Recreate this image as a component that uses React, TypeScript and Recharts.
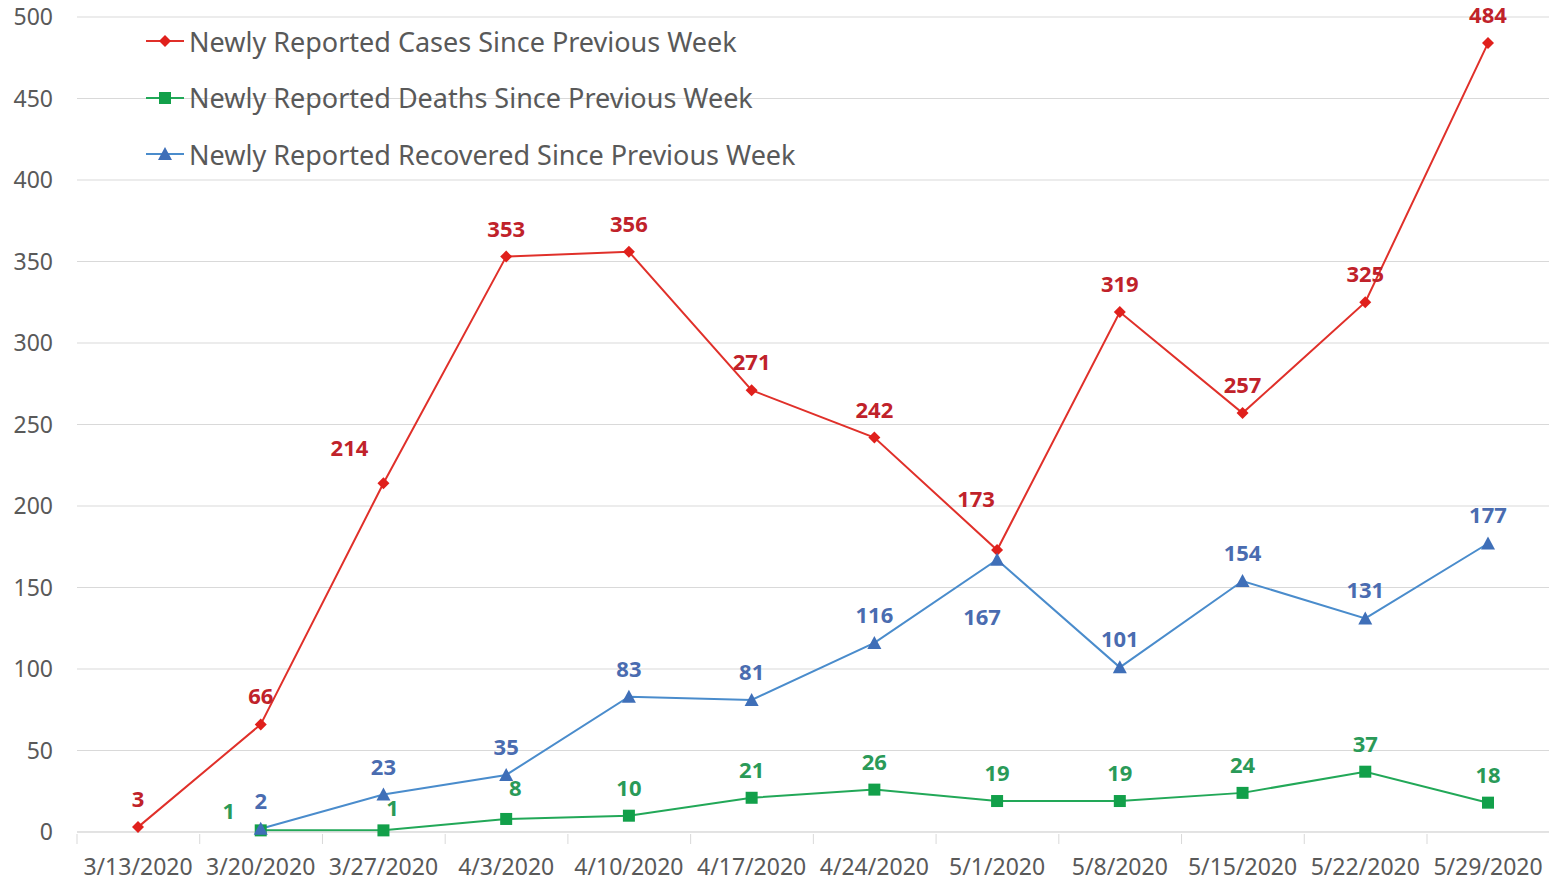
import React from 'react'
import { LineChart, Line, XAxis, YAxis, CartesianGrid, Legend, LabelList } from 'recharts'

const dates = [
  '3/13/2020', '3/20/2020', '3/27/2020', '4/3/2020', '4/10/2020', '4/17/2020',
  '4/24/2020', '5/1/2020', '5/8/2020', '5/15/2020', '5/22/2020', '5/29/2020',
]
const cases = [3, 66, 214, 353, 356, 271, 242, 173, 319, 257, 325, 484]
const deaths = [null, 1, 1, 8, 10, 21, 26, 19, 19, 24, 37, 18]
const recovered = [null, 2, 23, 35, 83, 81, 116, 167, 101, 154, 131, 177]
const yTicks = [0, 50, 100, 150, 200, 250, 300, 350, 400, 450, 500]

const data = dates.map((d, i) => ({ date: d, cases: cases[i], deaths: deaths[i], recovered: recovered[i] }))

const FONT = '"Noto Sans", sans-serif'
const GREY = '#595959'
const HALF_BAND = 61

// label nudges where Excel moved a label off the default "above" spot
const nudge: Record<string, Record<number, [number, number]>> = {
  cases: { 2: [-34, -36], 7: [-21, -52] },
  deaths: { 1: [-32, -20], 2: [9, -23], 3: [9, -32] },
  recovered: { 7: [-15, 56] },
}

const series = [
  { key: 'cases', name: 'Newly Reported Cases Since Previous Week', line: '#e0302a', mark: '#e0201c', label: '#c0222a', shape: 'diamond' },
  { key: 'deaths', name: 'Newly Reported Deaths Since Previous Week', line: '#22a858', mark: '#12a04a', label: '#2a9a58', shape: 'square' },
  { key: 'recovered', name: 'Newly Reported Recovered Since Previous Week', line: '#4a8ccc', mark: '#3f6fb8', label: '#4a6cb0', shape: 'triangle' },
]

function Marker({ shape, cx, cy, fill }: any) {
  if (cx == null || cy == null) return null
  if (shape === 'diamond') {
    const r = 6
    return <path d={`M${cx},${cy - r}L${cx + r},${cy}L${cx},${cy + r}L${cx - r},${cy}Z`} fill={fill} />
  }
  if (shape === 'square') {
    return <rect x={cx - 6} y={cy - 6} width={12} height={12} fill={fill} />
  }
  return <path d={`M${cx},${cy - 7}L${cx + 7},${cy + 6}L${cx - 7},${cy + 6}Z`} fill={fill} />
}

// tick mark sits on the category boundary, like Excel
function XTick({ x, y, payload }: any) {
  return (
    <g>
      <line x1={x - HALF_BAND} y1={y} x2={x - HALF_BAND} y2={y + 10} stroke="#d9d9d9" />
      <text x={x} y={y + 41} textAnchor="middle" fill={GREY} fontSize={23} fontFamily={FONT}>{payload.value}</text>
    </g>
  )
}

function renderLegend() {
  return (
    <div style={{ fontFamily: FONT }}>
      {series.map(s => (
        <div key={s.key} style={{ display: 'flex', alignItems: 'center', height: 56.5 }}>
          <svg width={40} height={20} style={{ marginRight: 3 }}>
            <line x1={0} y1={10} x2={38} y2={10} stroke={s.line} strokeWidth={2} />
            <Marker shape={s.shape} cx={19} cy={10} fill={s.mark} />
          </svg>
          <span style={{ fontSize: 27, color: GREY, whiteSpace: 'nowrap' }}>{s.name}</span>
        </div>
      ))}
    </div>
  )
}

function makeLabel(key: string, color: string) {
  return (props: any) => {
    const { x, y, value, index } = props
    if (value == null) return null
    const [dx, dy] = nudge[key][index] || [0, -29]
    return (
      <text x={x + dx} y={y + dy} textAnchor="middle" dominantBaseline="central"
        fill={color} fontSize={22} fontWeight="bold" fontFamily={FONT}>{value}</text>
    )
  }
}

export default function App() {
  return (
    <div style={{ position: 'absolute', left: 0, top: 0, background: '#fff' }}>
      <LineChart width={1549} height={881} data={data} margin={{ top: 17, right: 0, bottom: 0, left: 0 }}>
        <CartesianGrid vertical={false} stroke="#d9d9d9" />
        <XAxis dataKey="date" height={49} tick={<XTick />} tickLine={false} tickSize={0} stroke="#d9d9d9"
          interval={0} padding={{ left: HALF_BAND, right: HALF_BAND }} />
        <YAxis domain={[0, 500]} ticks={yTicks} width={77} axisLine={false} tickLine={false} tickSize={0} tickMargin={24}
          tick={{ fill: GREY, fontSize: 23, fontFamily: FONT }} interval={0} />
        <Legend layout="vertical" align="center" verticalAlign="middle" content={renderLegend}
          wrapperStyle={{ top: 13, left: 146, width: 'auto', height: 'auto' }} />
        {series.map(s => (
          <Line key={s.key} dataKey={s.key} name={s.name} stroke={s.line} strokeWidth={2}
            isAnimationActive={false}
            dot={(p: any) => <Marker key={`${s.key}-${p.index}`} shape={s.shape} cx={p.cx} cy={p.cy} fill={s.mark} />}
            activeDot={false}>
            <LabelList dataKey={s.key} content={makeLabel(s.key, s.label)} />
          </Line>
        ))}
      </LineChart>
    </div>
  )
}
